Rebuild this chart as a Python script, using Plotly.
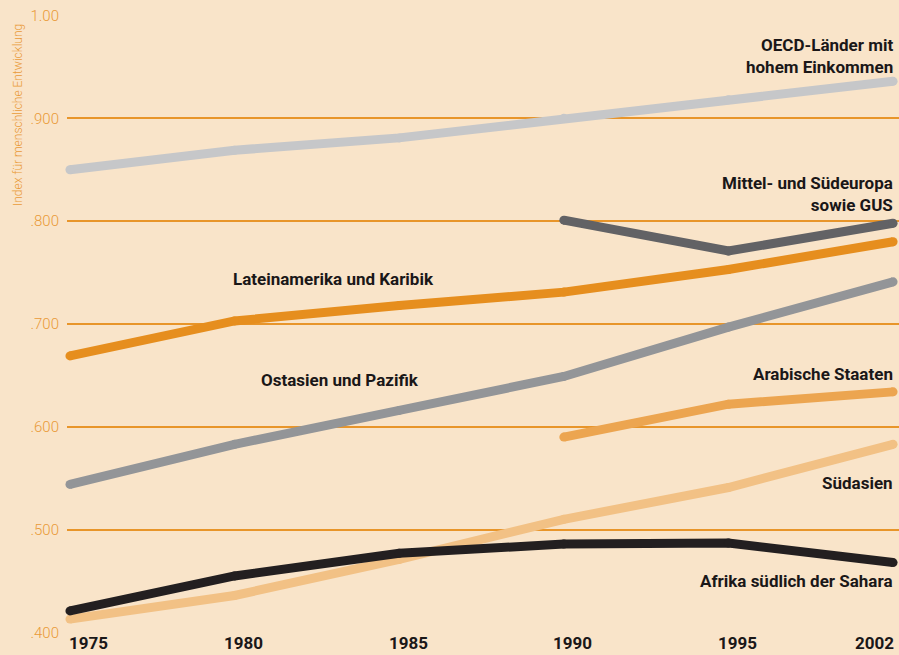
import plotly.graph_objects as go

years = ["1975", "1980", "1985", "1990", "1995", "2002"]
xpos = [0, 1, 2, 3, 4, 5]

oecd = [0.850, 0.869, 0.881, 0.900, 0.918, 0.936]
mittel = [None, None, None, 0.801, 0.771, 0.798]
latein = [0.669, 0.703, 0.718, 0.731, 0.753, 0.780]
ostasien = [0.544, 0.583, 0.616, 0.649, 0.697, 0.741]
arab = [None, None, None, 0.590, 0.622, 0.634]
suedasien = [0.413, 0.436, 0.471, 0.510, 0.541, 0.583]
afrika = [0.421, 0.455, 0.477, 0.486, 0.487, 0.468]

ytickvals = [0.4, 0.5, 0.6, 0.7, 0.8, 0.9, 1.0]
yticktext = [".400", ".500", ".600", ".700", ".800", ".900", "1.00"]

series = [
    ("OECD-Länder mit hohem Einkommen", oecd, "#c6c7c9"),
    ("Mittel- und Südeuropa sowie GUS", mittel, "#626265"),
    ("Lateinamerika und Karibik", latein, "#e68e1e"),
    ("Ostasien und Pazifik", ostasien, "#939598"),
    ("Arabische Staaten", arab, "#eca550"),
    ("Südasien", suedasien, "#f2c185"),
    ("Afrika südlich der Sahara", afrika, "#231f20"),
]

BG = "#f9e4c9"
GRID = "#e8952a"
TICKCOL = "#e99a38"
LABEL_FONT = dict(family="Roboto, 'Liberation Sans', sans-serif", size=17, color="#1a1718", weight="bold")

fig = go.Figure()
for name, vals, col in series:
    fig.add_trace(go.Scatter(
        x=xpos, y=vals, mode="lines+markers", name=name,
        line=dict(color=col, width=9),
        marker=dict(color=col, size=9, line=dict(width=0)),
        cliponaxis=False, showlegend=False, connectgaps=False,
    ))

annotations = []
annotations.append(dict(x=1.0, xref="paper", y=0.936, yref="y", xshift=-4, yshift=25,
                        text="OECD-Länder mit<br>hohem Einkommen", xanchor="right", yanchor="middle", align="right"))
annotations.append(dict(x=1.0, xref="paper", y=0.798, yref="y", xshift=-4, yshift=29,
                        text="Mittel- und Südeuropa<br>sowie GUS", xanchor="right", yanchor="middle", align="right"))
annotations.append(dict(x=1, xref="x", y=0.703, yref="y", xshift=-4, yshift=42,
                        text="Lateinamerika und Karibik", xanchor="left", yanchor="middle", align="left"))
annotations.append(dict(x=2, xref="x", y=0.616, yref="y", xshift=22, yshift=30,
                        text="Ostasien und Pazifik", xanchor="right", yanchor="middle", align="left"))
annotations.append(dict(x=1.0, xref="paper", y=0.634, yref="y", xshift=-4, yshift=18,
                        text="Arabische Staaten", xanchor="right", yanchor="middle", align="right"))
annotations.append(dict(x=1.0, xref="paper", y=0.541, yref="y", xshift=-4, yshift=5,
                        text="Südasien", xanchor="right", yanchor="middle", align="right"))
annotations.append(dict(x=1.0, xref="paper", y=0.468, yref="y", xshift=-4, yshift=-18,
                        text="Afrika südlich der Sahara", xanchor="right", yanchor="middle", align="right"))
for a in annotations:
    a.update(showarrow=False, font=LABEL_FONT)

xl_font = dict(family="Roboto, 'Liberation Sans', sans-serif", size=17, color="#1a1718", weight="bold")
for i, (xp, lab) in enumerate(zip(xpos, years)):
    if i == 0:
        anchor, shift = "left", -3
    elif i == len(years) - 1:
        anchor, shift = "right", 3
    else:
        anchor, shift = "center", 9
    annotations.append(dict(x=xp, xref="x", y=0, yref="paper", yshift=-22, xshift=shift,
                            text=lab, xanchor=anchor, yanchor="bottom", showarrow=False, font=xl_font))

annotations.append(dict(x=-0.059, xref="paper", y=0.838, yref="paper", text="Index für menschliche Entwicklung",
                        textangle=-90, showarrow=False, xanchor="center", yanchor="middle",
                        font=dict(family="Roboto, sans-serif", size=12, color=TICKCOL, weight=300)))

fig.update_layout(
    width=899, height=655,
    margin=dict(l=67, r=0, t=15, b=22),
    paper_bgcolor=BG, plot_bgcolor=BG,
    annotations=annotations,
    xaxis=dict(range=[-0.018, 5.036], showgrid=False, zeroline=False, showticklabels=False,
               showline=False, fixedrange=True),
    yaxis=dict(range=[0.3995, 1.0005], tickvals=ytickvals, ticktext=yticktext,
               showgrid=True, gridcolor=GRID, gridwidth=1.5, zeroline=False, showline=False,
               ticks="", ticklabelstandoff=7,
               tickfont=dict(family="Roboto, sans-serif", size=15, color=TICKCOL, weight=300)),
)

fig.write_html(
    "out.html",
    config={"displayModeBar": False},
    post_script="document.body.style.margin='0';document.body.style.overflow='hidden';document.body.style.background='" + BG + "';",
)
